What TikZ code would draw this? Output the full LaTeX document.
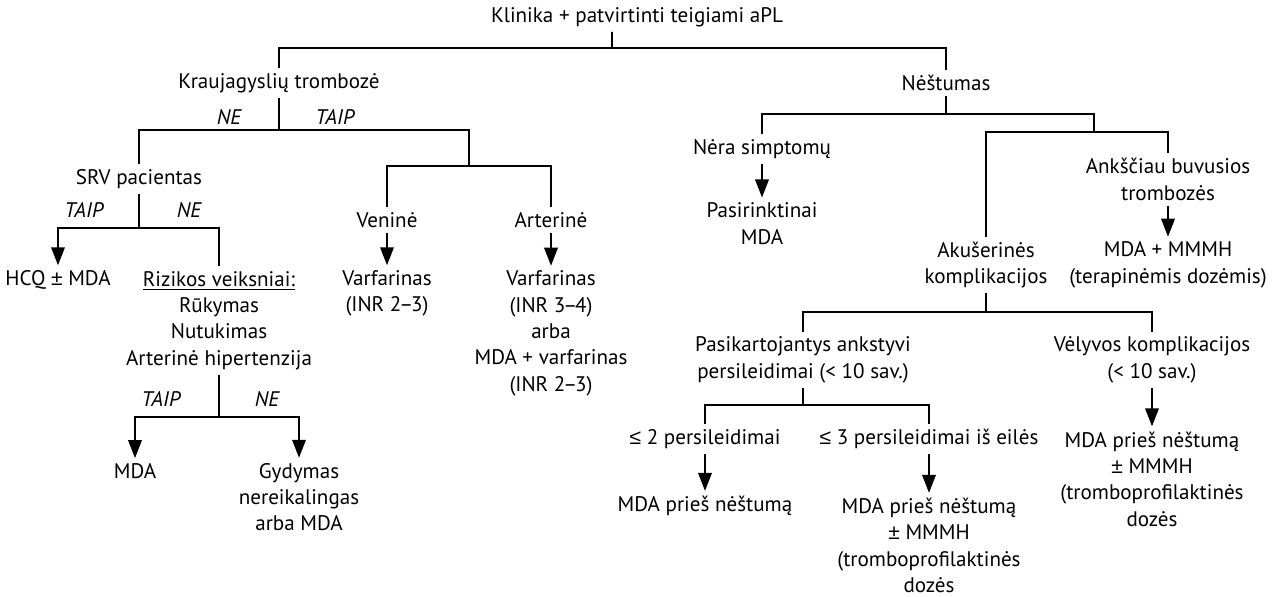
\documentclass[tikz,border=0pt]{standalone}
\usepackage{fontspec}
\setmainfont{PT Sans}
\newfontfamily\symfont{Liberation Sans}
\newcommand{\lesym}{{\symfont ≤}}
\newcommand{\pmsym}{{\symfont ±}}
\newcommand{\rng}[2]{#1\kern-1.2pt–\kern-1.2pt#2}
\usetikzlibrary{arrows.meta}

\begin{document}
\begin{tikzpicture}[x=0.02cm, y=-0.02cm,
  txt/.style={align=center, inner sep=0pt, outer sep=3pt, font=\fontsize{12}{15}\selectfont},
  yn/.style={inner sep=0pt, font=\fontsize{12}{15}\selectfont\itshape},
  lnk/.style={line width=1.1pt},
  arr/.style={line width=1.1pt, -{Triangle[length=0.36cm, width=0.27cm]}}]
  \useasboundingbox (0,0) rectangle (1277,597);

  % Root
  \node[txt] (root) at (637,17) {Klinika + patvirtinti teigiami aPL};
  \node[txt] (kt) at (279,83) {Kraujagyslių trombozė};
  \node[txt] (nes) at (946,83) {Nėštumas};
  \coordinate (j0) at (612,48);
  \draw[lnk] ([xshift=-0.5cm]root.south) -- (j0);
  \draw[lnk] (kt.north) |- (j0) -| (nes.north);

  % Left branch: thrombosis
  \node[txt] (srv) at (139,179) {SRV pacientas};
  \node[txt] (ven) at (387,220) {Veninė};
  \node[txt] (art) at (551,220) {Arterinė};
  \coordinate (j1) at (279,130);
  \coordinate (j2) at (469,166);
  \draw[lnk] (kt.south) -- (j1);
  \draw[lnk] (srv.north) |- (j1) -| (j2);
  \draw[lnk] (ven.north) |- (j2) -| (art.north);
  \node[yn] (ne1) at (229,117) {NE};
  \node[yn] (taip1) at (335,117) {TAIP};

  % SRV patient
  \node[txt] (hcq) at (58,280) {HCQ \pmsym{} MDA};
  \node[txt] (rizik) at (219,320.5) {\underline{Rizikos veiksniai:}\\Rūkymas\\Nutukimas\\Arterinė hipertenzija};
  \coordinate (j3) at (139,228);
  \draw[lnk] (srv.south) -- (j3);
  \draw[arr] (j3) -| (hcq.north);
  \draw[lnk] (j3) -| (rizik.north);
  \node[yn] (taip2) at (84,210) {TAIP};
  \node[yn] (ne2) at (189,210) {NE};

  % Risk factors
  \node[txt] (mda) at (135,471) {MDA};
  \node[txt] (gyd) at (299,497) {Gydymas\\nereikalingas\\arba MDA};
  \coordinate (j4) at (219,417);
  \draw[lnk] (rizik.south) -- (j4);
  \draw[arr] (j4) -| (mda.north);
  \draw[arr] (j4) -| (gyd.north);
  \node[yn] (taip3) at (161,399) {TAIP};
  \node[yn] (ne3) at (267,399) {NE};

  % Venous / arterial
  \node[txt] (venres) at (387,293.5) {Varfarinas\\(INR \rng{2}{3})};
  \node[txt] (artres) at (551,333.5) {Varfarinas\\(INR \rng{3}{4})\\arba\\MDA + varfarinas\\(INR \rng{2}{3})};
  \draw[arr] (ven.south) -- (venres.north);
  \draw[arr] (art.south) -- (artres.north);

  % Right branch: pregnancy
  \node[txt] (nera) at (762,149) {Nėra simptomų};
  \node[txt] (pasir) at (762,223.5) {Pasirinktinai\\MDA};
  \node[txt] (akus) at (986,265) {Akušerinės\\komplikacijos};
  \node[txt] (anks) at (1168,179.5) {Ankščiau buvusios\\trombozės};
  \node[txt] (anksres) at (1168,265) {MDA + MMMH\\(terapinėmis dozėmis)};
  \coordinate (j5) at (946,114);
  \coordinate (j6) at (1094,132);
  \draw[lnk] (nes.south) -- (j5);
  \draw[lnk] (nera.north) |- (j5) -| (j6);
  \draw[lnk] (akus.north) |- (j6) -| (anks.north);
  \draw[arr] (nera.south) -- (pasir.north);
  \draw[arr] (anks.south) -- (anksres.north);

  % Obstetric complications
  \node[txt] (pask) at (803,360) {Pasikartojantys ankstyvi\\persileidimai (< 10 sav.)};
  \node[txt] (vel) at (1152,360) {Vėlyvos komplikacijos\\(< 10 sav.)};
  \coordinate (j7) at (986,312);
  \draw[lnk] (akus.south) -- (j7);
  \draw[lnk] (pask.north) |- (j7) -| (vel.north);

  % Early losses
  \node[txt] (two) at (705,439) {\lesym{} 2 persileidimai};
  \node[txt] (three) at (929,439) {\lesym{} 3 persileidimai iš eilės};
  \coordinate (j8) at (803,405);
  \draw[lnk] (pask.south) -- (j8);
  \draw[lnk] (two.north) |- (j8) -| (three.north);

  % Treatments
  \node[txt] (twores) at (705,506) {MDA prieš nėštumą};
  \node[txt] (threeres) at (929,545.5) {MDA prieš nėštumą\\\pmsym{} MMMH\\(tromboprofilaktinės\\dozės};
  \node[txt] (velres) at (1152,479) {MDA prieš nėštumą\\\pmsym{} MMMH\\(tromboprofilaktinės\\dozės};
  \draw[arr] (two.south) -- (twores.north);
  \draw[arr] (three.south) -- (threeres.north);
  \draw[arr] (vel.south) -- (velres.north);
\end{tikzpicture}
\end{document}
